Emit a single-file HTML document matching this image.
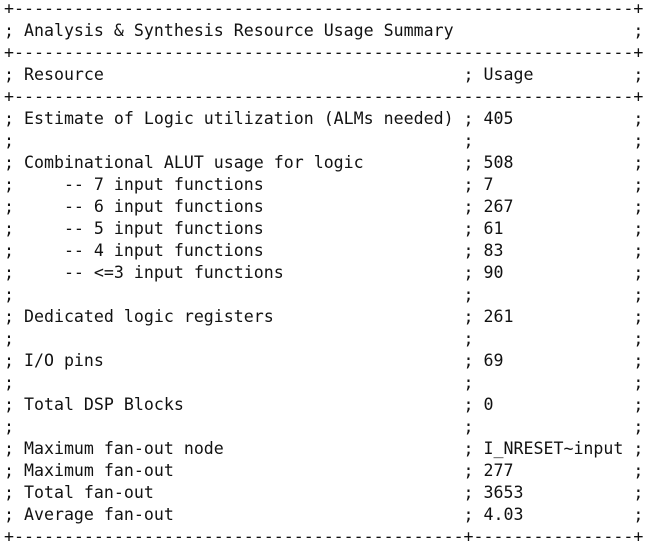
<!DOCTYPE html>
<html><head><meta charset="utf-8"><style>
html,body{margin:0;padding:0;background:#fff;width:649px;height:549px;overflow:hidden}
pre{position:absolute;left:4px;top:-2px;margin:0;font-family:"DejaVu Sans Mono","Liberation Mono",monospace;font-size:16.6px;line-height:22px;color:#111}
</style></head><body>
<pre>+--------------------------------------------------------------+
; Analysis &amp; Synthesis Resource Usage Summary                  ;
+--------------------------------------------------------------+
; Resource                                    ; Usage          ;
+--------------------------------------------------------------+
; Estimate of Logic utilization (ALMs needed) ; 405            ;
;                                             ;                ;
; Combinational ALUT usage for logic          ; 508            ;
;     -- 7 input functions                    ; 7              ;
;     -- 6 input functions                    ; 267            ;
;     -- 5 input functions                    ; 61             ;
;     -- 4 input functions                    ; 83             ;
;     -- &lt;=3 input functions                  ; 90             ;
;                                             ;                ;
; Dedicated logic registers                   ; 261            ;
;                                             ;                ;
; I/O pins                                    ; 69             ;
;                                             ;                ;
; Total DSP Blocks                            ; 0              ;
;                                             ;                ;
; Maximum fan-out node                        ; I_NRESET~input ;
; Maximum fan-out                             ; 277            ;
; Total fan-out                               ; 3653           ;
; Average fan-out                             ; 4.03           ;
+---------------------------------------------+----------------+</pre>
</body></html>
